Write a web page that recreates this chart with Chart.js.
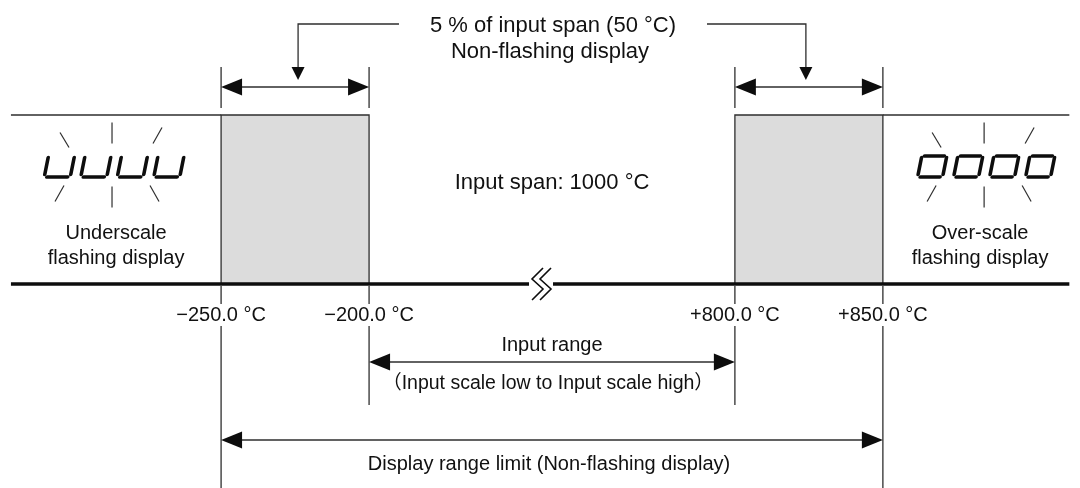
<!DOCTYPE html>
<html><head><meta charset="utf-8">
<script src="https://cdn.jsdelivr.net/npm/chart.js@4.4.1/dist/chart.umd.min.js"></script>
<style>html,body{margin:0;padding:0;background:#fff;}canvas{display:block;}</style>
</head><body>
<canvas id="c" width="1080" height="488"></canvas>
<script>
// ---- data ----
const tickValues = [-250, -200, 800, 850];
const tickLabels = ['\u2212250.0 \u00B0C', '\u2212200.0 \u00B0C', '+800.0 \u00B0C', '+850.0 \u00B0C'];
const shadedLow = [-250, -200];
const shadedHigh = [800, 850];
const inputRange = [-200, 800];
const displayRange = [-250, 850];
const axisEnds = [-321, 913];
const breakValue = 270;
const titleLines = ['5 % of input span (50 \u00B0C)', 'Non-flashing display'];
const spanLabel = 'Input span: 1000 \u00B0C';
const underLabel = ['Underscale', 'flashing display'];
const overLabel = ['Over-scale', 'flashing display'];
const inputRangeLabel = ['Input range', '\uFF08Input scale low to Input scale high\uFF09'];
const displayRangeLabel = 'Display range limit (Non-flashing display)';
const underDigits = ['u', 'u', 'u', 'u'];
const overDigits = ['o', 'o', 'o', 'o'];

// ---- layout (vertical levels measured as height above the axis line) ----
const BOX_H = 169;
const GAP = 123.6;             // compressed width of the broken part of the axis
const XMIN = -324.7, XMAX = 40.2;
const LINE = '#2e2e2e', FILL = '#dcdcdc', TEXT = '#111111', HEAD = '#0d0d0d';
const FONT = '"Liberation Sans", Arial, "Noto Sans CJK JP", sans-serif';

function toAxis(v) {
  if (v <= inputRange[0]) return v;
  if (v >= inputRange[1]) return inputRange[0] + GAP + (v - inputRange[1]);
  return inputRange[0] + GAP * (v - inputRange[0]) / (inputRange[1] - inputRange[0]);
}
function boxData(r) {
  return [{x: toAxis(r[0]), y: 0}, {x: toAxis(r[0]), y: BOX_H}, {x: toAxis(r[1]), y: BOX_H}, {x: toAxis(r[1]), y: 0}];
}

const diagram = {
  id: 'diagram',
  afterDatasetsDraw(chart) {
    const ctx = chart.ctx, xs = chart.scales.x, ys = chart.scales.y;
    const X = v => xs.getPixelForValue(toAxis(v));
    const Y = h => ys.getPixelForValue(h);
    ctx.save();
    ctx.strokeStyle = LINE; ctx.fillStyle = HEAD; ctx.lineWidth = 1.3;

    function line(x1, y1, x2, y2, w) {
      ctx.lineWidth = w || 1.3;
      ctx.beginPath(); ctx.moveTo(x1, y1); ctx.lineTo(x2, y2); ctx.stroke();
    }
    function head(tx, ty, dx, dy, len, half) {
      const nx = -dy, ny = dx;
      ctx.fillStyle = HEAD;
      ctx.beginPath();
      ctx.moveTo(tx, ty);
      ctx.lineTo(tx - dx * len + nx * half, ty - dy * len + ny * half);
      ctx.lineTo(tx - dx * len - nx * half, ty - dy * len - ny * half);
      ctx.closePath(); ctx.fill();
    }
    function dim(x1, x2, y) {
      line(x1 + 10, y, x2 - 10, y);
      head(x1, y, -1, 0, 21, 8.5);
      head(x2, y, 1, 0, 21, 8.5);
    }
    function text(s, x, y, size, bg) {
      ctx.font = size + 'px ' + FONT;
      ctx.textAlign = 'center'; ctx.textBaseline = 'middle';
      if (bg) {
        const w = ctx.measureText(s).width;
        ctx.fillStyle = '#fff';
        ctx.fillRect(x - w / 2 - 3, y - size * 0.55, w + 6, size * 1.1);
      }
      ctx.fillStyle = TEXT;
      ctx.fillText(s, x, y);
    }

    // extension lines
    tickValues.forEach(v => {
      const x = X(v);
      line(x, Y(217), x, Y(176));
      const isInput = inputRange.includes(v);
      line(x, Y(0) + 2, x, Y(isInput ? -121 : -204));
    });
    // tick labels
    tickValues.forEach((v, i) => text(tickLabels[i], X(v), Y(-31), 20, true));

    // top dimension arrows
    [shadedLow, shadedHigh].forEach(r => dim(X(r[0]), X(r[1]), Y(197)));

    // title and leaders
    const cx = (X(displayRange[0]) + X(displayRange[1])) / 2;
    text(titleLines[0], cx + 1, Y(258), 22);
    text(titleLines[1], cx - 2, Y(232), 22);
    const lx = (X(shadedLow[0]) + X(shadedLow[1])) / 2 + 3;
    const rx = (X(shadedHigh[0]) + X(shadedHigh[1])) / 2 - 3;
    ctx.strokeStyle = LINE; ctx.lineWidth = 1.3;
    ctx.beginPath(); ctx.moveTo(cx - 153, Y(260)); ctx.lineTo(lx, Y(260)); ctx.lineTo(lx, Y(212)); ctx.stroke();
    head(lx, Y(204), 0, 1, 13, 6.5);
    ctx.beginPath(); ctx.moveTo(cx + 155, Y(260)); ctx.lineTo(rx, Y(260)); ctx.lineTo(rx, Y(212)); ctx.stroke();
    head(rx, Y(204), 0, 1, 13, 6.5);

    // span label
    text(spanLabel, cx, Y(101), 22);

    // seven-segment displays
    function digits(list, gx, pitch, w) {
      const h = 21, base = Y(107);
      const total = pitch * (list.length - 1) + w;
      list.forEach((d, i) => {
        const x0 = gx - total / 2 + i * pitch;
        ctx.save();
        ctx.translate(x0, base);
        ctx.transform(1, 0, -0.2, 1, 0, 0);
        ctx.lineWidth = 3.6; ctx.lineCap = 'round'; ctx.strokeStyle = '#0d0d0d';
        const seg = (a, b, c, e) => { ctx.beginPath(); ctx.moveTo(a, b); ctx.lineTo(c, e); ctx.stroke(); };
        seg(0, -h + 1.5, 0, -2.5);
        seg(2.5, 0, w - 2.5, 0);
        seg(w, -2.5, w, -h + 1.5);
        if (d === 'o') seg(2.5, -h, w - 2.5, -h);
        ctx.restore();
      });
      // flashing rays
      const cy = base - h / 2;
      ctx.strokeStyle = LINE;
      line(gx, cy - 44, gx, cy - 23, 1.2);
      line(gx, cy + 20, gx, cy + 41, 1.2);
      line(gx - 52, cy - 34, gx - 43, cy - 19, 1.2);
      line(gx + 50, cy - 39, gx + 41, cy - 23, 1.2);
      line(gx - 48, cy + 19, gx - 57, cy + 35, 1.2);
      line(gx + 38, cy + 19, gx + 47, cy + 35, 1.2);
    }
    const gl = (X(axisEnds[0]) + X(displayRange[0])) / 2 - 4;
    const gr = (X(displayRange[1]) + X(axisEnds[1])) / 2 + 8;
    digits(underDigits, gl, 36.5, 26);
    digits(overDigits, gr, 36, 25);
    const ll = (X(axisEnds[0]) + X(displayRange[0])) / 2;
    const lr = (X(displayRange[1]) + X(axisEnds[1])) / 2 + 4;
    text(underLabel[0], ll, Y(51), 20); text(underLabel[1], ll, Y(26), 20);
    text(overLabel[0], lr, Y(51), 20); text(overLabel[1], lr, Y(26), 20);

    // axis break
    const bx = X(breakValue), by = Y(0);
    ctx.fillStyle = '#fff';
    ctx.fillRect(bx - 12, by - 4, 24, 8);
    ctx.strokeStyle = '#0d0d0d'; ctx.lineWidth = 1.6; ctx.lineJoin = 'miter';
    [-4, 4].forEach(o => {
      ctx.beginPath();
      ctx.moveTo(bx + o + 6, by - 16);
      ctx.lineTo(bx + o - 5, by - 5);
      ctx.lineTo(bx + o + 6, by + 5);
      ctx.lineTo(bx + o - 5, by + 16);
      ctx.stroke();
    });
    ctx.strokeStyle = LINE;

    // input range
    const ix1 = X(inputRange[0]), ix2 = X(inputRange[1]);
    const icx = (ix1 + ix2) / 2;
    text(inputRangeLabel[0], icx, Y(-61), 20);
    dim(ix1, ix2, Y(-78));
    text(inputRangeLabel[1], icx - 4, Y(-100), 19.5);

    // display range
    dim(X(displayRange[0]), X(displayRange[1]), Y(-156));
    text(displayRangeLabel, cx - 3, Y(-180), 20);

    ctx.restore();
  }
};

new Chart(document.getElementById('c'), {
  type: 'line',
  data: {
    datasets: [
      { data: [{x: toAxis(axisEnds[0]), y: 0}, {x: toAxis(axisEnds[1]), y: 0}], borderColor: '#0d0d0d', borderWidth: 3.5, fill: false },
      { data: [{x: toAxis(axisEnds[0]), y: BOX_H}, {x: toAxis(shadedLow[0]), y: BOX_H}], borderColor: LINE, borderWidth: 1.3, fill: false },
      { data: [{x: toAxis(shadedHigh[1]), y: BOX_H}, {x: toAxis(axisEnds[1]), y: BOX_H}], borderColor: LINE, borderWidth: 1.3, fill: false },
      { data: boxData(shadedLow), borderColor: LINE, borderWidth: 1.3, backgroundColor: FILL, fill: 'origin' },
      { data: boxData(shadedHigh), borderColor: LINE, borderWidth: 1.3, backgroundColor: FILL, fill: 'origin' }
    ]
  },
  options: {
    responsive: false, animation: false, events: [],
    layout: { padding: 0 },
    elements: { point: { radius: 0 }, line: { tension: 0 } },
    plugins: { legend: { display: false }, tooltip: { enabled: false } },
    scales: {
      x: { type: 'linear', display: false, min: XMIN, max: XMAX },
      y: { type: 'linear', display: false, min: -204, max: 284 }
    }
  },
  plugins: [diagram]
});
</script>
</body></html>
